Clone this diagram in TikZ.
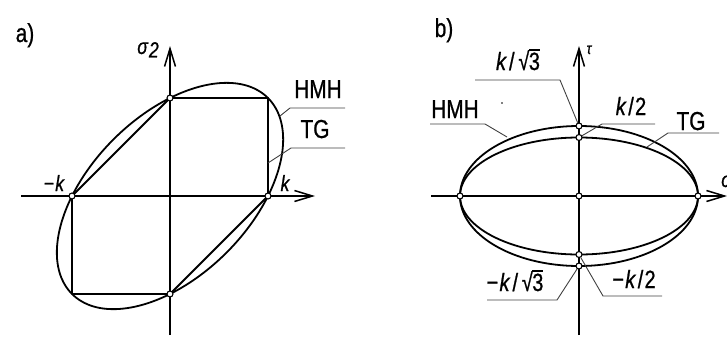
\documentclass[tikz,border=0pt]{standalone}
\usepackage{fontspec}
\setmainfont[FakeStretch=0.8,FakeBold=0.8]{Liberation Sans}
\usetikzlibrary{arrows.meta}
\newcommand\rtthree{√\kern-0.02em\vbox{\hrule height 0.07em\kern0.06em\hbox{3}}}
\begin{document}
\begin{tikzpicture}[x=1pt,y=-1pt,
  curve/.style={line width=1.8pt,line join=round},
  axis/.style={line width=1.8pt,-{Straight Barb[length=18pt,width=11pt,line width=1.5pt]}},
  leader/.style={line width=0.9pt,black!75},
  pt/.style={circle,draw,fill=white,inner sep=0pt,minimum size=6pt,line width=1.1pt},
  lbl/.style={inner sep=0pt,anchor=base,font=\fontsize{26}{30}\selectfont},
  mlbl/.style={inner sep=0pt,anchor=base,font=\fontsize{25}{30}\selectfont\itshape},
  slbl/.style={inner sep=0pt,anchor=base,font=\fontsize{22}{26}\selectfont\itshape}]
\useasboundingbox (0,0) rectangle (727,340);
% ---------- panel a ----------
\coordinate (aO) at (170,196);
\coordinate (aT) at (170,98);
\coordinate (aR) at (268,196);
\coordinate (aL) at (72,196);
\coordinate (aB) at (170,294);
\coordinate (aTR) at (268,98);
\coordinate (aBL) at (72,294);
\coordinate (aXs) at (21,196);
\coordinate (aXe) at (315,196);
\coordinate (aYs) at (170,335);
\coordinate (aYe) at (170,46);
\draw[axis] (aXs) -- (aXe);
\draw[axis] (aYs) -- (aYe);
\draw[curve] (aL) -- (aT) -- (aTR) -- (aR) -- (aB) -- (aBL) -- cycle;
\draw[curve] plot[domain=0:360,samples=120,smooth,variable=\t]
  ({170+98*(cos(\t)-sin(\t)/sqrt(3))},{196-98*(cos(\t)+sin(\t)/sqrt(3))}) -- cycle;
\node[pt] (paT) at (aT) {};
\node[pt] (paR) at (aR) {};
\node[pt] (paL) at (aL) {};
\node[pt] (paB) at (aB) {};
\node[lbl] (la) at (25,42) {a)};
\node[slbl] (ls2) at (148,54) {σ\kern0.05em\raisebox{-0.3ex}{2}};
\node[lbl] (lhmha) at (318,98) {HMH};
\node[lbl] (ltga) at (315,138) {TG};
\node[slbl] (lmk) at (54,191) {\upshape −\kern0.05em\itshape k};
\node[slbl] (lk) at (285,191) {k};
\coordinate (hA1) at (345,108);
\coordinate (hA2) at (290,108);
\coordinate (hA3) at (280,116);
\draw[leader] (hA1) -- (hA2) -- (hA3);
\coordinate (tA1) at (345,148);
\coordinate (tA2) at (291,148);
\coordinate (tA3) at (268,163);
\draw[leader] (tA1) -- (tA2) -- (tA3);
% ---------- panel b ----------
\coordinate (bO) at (579,196);
\coordinate (bXs) at (431,196);
\coordinate (bXe) at (727,196);
\coordinate (bYs) at (579,335);
\coordinate (bYe) at (579,46);
\draw[axis] (bXs) -- (bXe);
\draw[axis] (bYs) -- (bYe);
\draw[curve] (bO) ellipse [x radius=119pt, y radius=70pt];
\draw[curve] (bO) ellipse [x radius=119pt, y radius=58.5pt];
\node[pt] (pbL) at (460,196) {};
\node[pt] (pbO) at (bO) {};
\node[pt] (pbR) at (698,196) {};
\node[pt] (pbT1) at (579,126) {};
\node[pt] (pbT2) at (579,137.5) {};
\node[pt] (pbB2) at (579,254.5) {};
\node[pt] (pbB1) at (579,266) {};
\node[lbl] (lb) at (444,37) {b)};
\node[inner sep=0pt,anchor=base,font=\fontsize{16}{18}\selectfont\itshape] (ltau) at (589,54) {τ};
\node[slbl,anchor=base west] (lsig) at (721,187) {σ};
\node[mlbl] (lk3) at (518,70) {k\kern0.12em\upshape/\kern0.15em\rtthree};
\node[lbl] (lhmhb) at (455,118) {HMH};
\node[mlbl] (lk2) at (631,115) {k\kern0.1em\upshape/\kern0.05em 2};
\node[lbl] (ltgb) at (691,130) {TG};
\node[mlbl] (lmk3) at (515,291) {\upshape −\kern0.05em\itshape k\kern0.12em\upshape/\kern0.15em\rtthree};
\node[mlbl] (lmk2) at (634,288) {\upshape −\kern0.05em\itshape k\kern0.1em\upshape/\kern0.05em 2};
\fill (502,103) circle[radius=0.9pt];
\coordinate (k3a) at (475,80);
\coordinate (k3b) at (560,80);
\draw[leader] (k3a) -- (k3b) -- (pbT1);
\coordinate (hB1) at (430,124);
\coordinate (hB2) at (485,124);
\coordinate (hB3) at (507,137);
\draw[leader] (hB1) -- (hB2) -- (hB3);
\coordinate (k2a) at (655,124);
\coordinate (k2b) at (602,124);
\draw[leader] (k2a) -- (k2b) -- (pbT2);
\coordinate (tB1) at (719,133);
\coordinate (tB2) at (668,133);
\coordinate (tB3) at (647,147);
\draw[leader] (tB1) -- (tB2) -- (tB3);
\coordinate (mk3a) at (487,300);
\coordinate (mk3b) at (557,300);
\draw[leader] (mk3a) -- (mk3b) -- (pbB1);
\coordinate (mk2a) at (662,296);
\coordinate (mk2b) at (603,296);
\draw[leader] (mk2a) -- (mk2b) -- (pbB2);
\end{tikzpicture}
\end{document}
